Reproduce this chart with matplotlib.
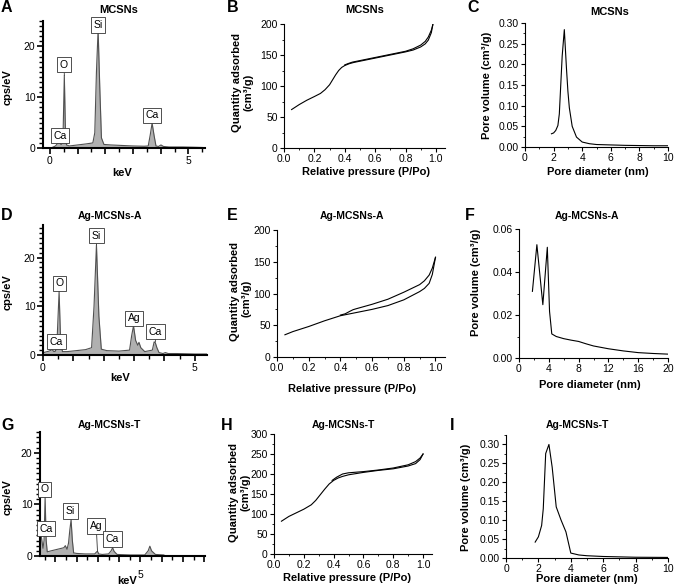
# EDS spectra, N2 isotherms and pore size distributions for MCSNs, Ag-MCSNs-A, Ag-MCSNs-T
# 3x3 panel figure

import matplotlib
matplotlib.use("Agg")
from matplotlib import pyplot as plt
from matplotlib.ticker import MultipleLocator, FixedLocator, FixedFormatter, FormatStrFormatter

plt.rcParams['font.family'] = ['Liberation Sans', 'DejaVu Sans']

W, H = 675, 587

# ---- EDS spectra (keV, cps/eV) ----
eds_a_kev = [0.08, 0.2, 0.28, 0.34, 0.40, 0.44, 0.48, 0.52, 0.56, 0.6, 0.7, 1.0, 1.3, 1.55, 1.62, 1.68,
             1.74, 1.80, 1.86, 1.95, 2.2, 2.6, 3.0, 3.4, 3.55, 3.62, 3.69, 3.76, 3.83, 3.92, 4.01, 4.1,
             4.3, 4.8, 5.2, 5.5]
eds_a_cps = [0.1, 0.4, 0.9, 1.2, 0.7, 0.8, 4.0, 14.3, 3.5, 0.6, 0.4, 0.6, 0.8, 1.0, 3.0, 15.0,
             23.3, 12.0, 2.0, 0.7, 0.6, 0.5, 0.4, 0.35, 0.4, 2.5, 4.9, 2.5, 0.4, 0.3, 0.6, 0.3,
             0.2, 0.2, 0.15, 0.1]
eds_a_labels = [('Ca', 0.34, 1.2, 0.36, 2.4), ('O', 0.52, 14.3, 0.51, 16.4),
                ('Si', 1.74, 23.0, 1.73, 24.2), ('Ca', 3.69, 4.9, 3.69, 6.4)]

eds_d_kev = [0.02, 0.2, 0.3, 0.36, 0.42, 0.47, 0.53, 0.58, 0.64, 0.8, 1.1, 1.4, 1.6, 1.68, 1.76, 1.84,
             1.92, 2.1, 2.5, 2.85, 2.92, 2.98, 3.05, 3.12, 3.16, 3.22, 3.35, 3.6, 3.66, 3.70, 3.75,
             3.82, 3.95, 4.03, 4.12, 4.4, 5.0, 5.4]
eds_d_cps = [0.5, 0.8, 1.1, 0.7, 0.8, 4.0, 13.0, 3.0, 0.7, 0.7, 0.9, 1.1, 1.5, 10.0, 22.6, 8.0,
             1.2, 0.9, 0.8, 1.0, 4.0, 6.0, 3.0, 2.0, 2.6, 1.5, 0.7, 1.0, 2.7, 2.5, 1.5,
             0.5, 0.3, 0.5, 0.3, 0.3, 0.2, 0.2]
eds_d_labels = [('Ca', 0.40, 0.9, 0.44, 2.7), ('O', 0.53, 13.0, 0.55, 14.7),
                ('Si', 1.76, 22.6, 1.76, 24.5), ('Ag', 2.98, 6.0, 3.0, 7.5),
                ('Ca', 3.70, 2.7, 3.70, 4.8)]

eds_g_kev = [0.28, 0.34, 0.42, 0.47, 0.52, 0.57, 0.62, 0.8, 1.0, 1.2, 1.4, 1.47, 1.55, 1.62, 1.68,
             1.74, 1.80, 1.86, 2.0, 2.4, 2.85, 2.94, 2.98, 3.04, 3.2, 3.5, 3.62, 3.69, 3.76, 3.9,
             4.5, 5.2, 5.36, 5.44, 5.52, 5.7, 6.1]
eds_g_cps = [3.5, 3.8, 1.5, 3.0, 11.3, 3.0, 0.8, 1.0, 1.2, 1.4, 1.6, 2.0, 1.3, 2.5, 5.0,
             7.0, 3.0, 0.6, 0.5, 0.4, 0.4, 0.8, 0.9, 0.4, 0.3, 0.4, 1.0, 1.6, 0.9, 0.3,
             0.2, 0.2, 1.0, 1.9, 1.0, 0.3, 0.2]
eds_g_labels = [('O', 0.52, 11.3, 0.48, 12.9), ('Ca', 0.36, 3.8, 0.55, 5.3),
                ('Si', 1.74, 7.0, 1.72, 8.7), ('Ag', 2.98, 0.9, 2.92, 5.8),
                ('Ca', 3.69, 1.6, 3.69, 3.3)]

# ---- N2 isotherms (P/Po, cm3/g) ----
iso_b_ads_p = [0.05, 0.1, 0.15, 0.2, 0.24, 0.27, 0.3, 0.32, 0.34, 0.36, 0.38, 0.4, 0.43, 0.46, 0.5,
               0.6, 0.7, 0.8, 0.85, 0.9, 0.93, 0.95, 0.97, 0.98]
iso_b_ads_q = [62, 70, 77, 83, 88, 94, 102, 110, 118, 125, 130, 133, 136, 138, 140,
               145, 150, 155, 158, 163, 168, 174, 186, 199]
iso_b_des_p = [0.98, 0.97, 0.95, 0.93, 0.9, 0.85, 0.8, 0.7, 0.6, 0.5, 0.45, 0.42, 0.4]
iso_b_des_q = [199, 190, 179, 172, 166, 160, 156, 151, 146, 141, 138.5, 136, 134]

iso_e_ads_p = [0.05, 0.1, 0.2, 0.3, 0.4, 0.5, 0.6, 0.7, 0.8, 0.9, 0.93, 0.96, 0.98, 1.0]
iso_e_ads_q = [35, 40, 48, 57, 65, 70, 75, 81, 90, 103, 108, 116, 130, 157]
iso_e_des_p = [1.0, 0.98, 0.96, 0.93, 0.9, 0.8, 0.7, 0.6, 0.5, 0.48, 0.46, 0.43, 0.4]
iso_e_des_q = [157, 140, 129, 120, 114, 102, 91, 83, 76, 74.5, 72, 68, 66]

iso_h_ads_p = [0.05, 0.1, 0.2, 0.25, 0.28, 0.31, 0.34, 0.37, 0.4, 0.43, 0.46, 0.5, 0.6, 0.7, 0.8,
               0.9, 0.95, 0.98, 1.0]
iso_h_ads_q = [82, 94, 112, 123, 134, 148, 162, 175, 184, 190, 194, 198, 204, 209, 213,
               220, 226, 236, 250]
iso_h_des_p = [1.0, 0.98, 0.95, 0.9, 0.8, 0.7, 0.6, 0.5, 0.46, 0.42, 0.39]
iso_h_des_q = [250, 240, 231, 223, 215, 210, 206, 203, 200, 192, 184]

# ---- pore size distributions (nm, cm3/g) ----
psd_c_d = [1.85, 2.0, 2.15, 2.3, 2.4, 2.5, 2.6, 2.75, 2.9, 3.0, 3.1, 3.3, 3.6, 4.0, 4.5, 5.0, 6.0, 7.0, 8.0, 9.0, 10.0]
psd_c_v = [0.032, 0.034, 0.040, 0.052, 0.080, 0.150, 0.220, 0.284, 0.190, 0.135, 0.095, 0.050, 0.024,
           0.012, 0.008, 0.006, 0.005, 0.004, 0.0035, 0.003, 0.003]

psd_f_d = [1.8, 2.4, 3.2, 3.8, 4.1, 4.4, 5.0, 6.0, 7.0, 8.0, 9.0, 10.0, 12.0, 14.0, 16.0, 18.0, 20.0]
psd_f_v = [0.031, 0.0527, 0.0248, 0.0515, 0.0217, 0.0112, 0.0100, 0.0090, 0.0083, 0.0077, 0.0066,
           0.0056, 0.0043, 0.0033, 0.0025, 0.0021, 0.0018]

psd_i_d = [1.8, 2.0, 2.2, 2.3, 2.45, 2.65, 2.85, 3.1, 3.4, 3.7, 4.0, 4.5, 5.0, 6.0, 8.0, 10.0]
psd_i_v = [0.042, 0.056, 0.086, 0.13, 0.276, 0.300, 0.240, 0.135, 0.100, 0.069, 0.013, 0.008,
           0.006, 0.004, 0.002, 0.0015]

fig = plt.figure(figsize=(W / 100, H / 100), dpi=100)


def add_ax(left, top, right, bottom):
    return fig.add_axes([left / W, 1 - bottom / H, (right - left) / W, (bottom - top) / H])


def ftext(x, y, s, **kw):
    fig.text(x / W, 1 - y / H, s, **kw)


def clean(ax, lw):
    for side in ['top', 'right']:
        ax.spines[side].set_visible(False)
    for side in ['left', 'bottom']:
        ax.spines[side].set_linewidth(lw)
    ax.tick_params(labelsize=7.5, direction='out', pad=1.5)


def eds_panel(box, kev, cps, labels, xlim, ylim, xlabel_pad=1.5):
    ax = add_ax(*box)
    clean(ax, 1.5)
    ax.fill_between(kev, cps, 0, color='#b0b0b0', lw=0)
    ax.plot(kev, cps, color='#505050', lw=0.8)
    for s, px, py, bx, by in labels:
        ax.annotate(s, xy=(px, py), xytext=(bx, by), ha='center', va='center', fontsize=7.5,
                    bbox=dict(boxstyle='square,pad=0.25', fc='white', ec='#333333', lw=0.6),
                    arrowprops=dict(arrowstyle='-', color='#333333', lw=0.6, shrinkA=0, shrinkB=0))
    ax.set_xlim(*xlim)
    ax.set_ylim(*ylim)
    ax.yaxis.set_major_locator(FixedLocator([0, 10, 20]))
    ax.yaxis.set_minor_locator(MultipleLocator(1))
    ticks = [t for t in range(0, 9) if xlim[0] <= t <= xlim[1]]
    ax.xaxis.set_major_locator(FixedLocator(ticks))
    ax.xaxis.set_major_formatter(FixedFormatter([str(t) if t in (0, 5) else '' for t in ticks]))
    ax.xaxis.set_minor_locator(MultipleLocator(0.5))
    ax.tick_params(which='major', length=4, width=1.2)
    ax.tick_params(which='minor', length=3, width=1.0)
    ax.tick_params(axis='x', pad=xlabel_pad)
    return ax


def iso_panel(box, ads_p, ads_q, des_p, des_q, ymax):
    ax = add_ax(*box)
    clean(ax, 0.8)
    ax.plot(ads_p, ads_q, color='black', lw=0.8)
    ax.plot(des_p, des_q, color='black', lw=0.8)
    ax.set_xlim(0, 1.06)
    ax.set_ylim(0, ymax)
    ax.xaxis.set_major_locator(FixedLocator([0, 0.2, 0.4, 0.6, 0.8, 1.0]))
    ax.xaxis.set_major_formatter(FormatStrFormatter('%.1f'))
    ax.yaxis.set_major_locator(MultipleLocator(50))
    ax.yaxis.set_minor_locator(MultipleLocator(25))
    ax.xaxis.set_minor_locator(MultipleLocator(0.1))
    ax.tick_params(which='major', length=3, width=0.8)
    ax.tick_params(which='minor', length=1.5, width=0.6)
    return ax


def psd_panel(box, d, v, xmax, xstep, ymax, ystep):
    ax = add_ax(*box)
    clean(ax, 0.8)
    ax.plot(d, v, color='black', lw=0.8)
    ax.set_xlim(0, xmax)
    ax.set_ylim(0, ymax)
    ax.xaxis.set_major_locator(MultipleLocator(xstep))
    ax.yaxis.set_major_locator(MultipleLocator(ystep))
    ax.yaxis.set_major_formatter(FormatStrFormatter('%.2f'))
    ax.xaxis.set_minor_locator(MultipleLocator(xstep / 2))
    ax.yaxis.set_minor_locator(MultipleLocator(ystep / 2))
    ax.tick_params(which='major', length=3, width=0.8)
    ax.tick_params(which='minor', length=1.5, width=0.6)
    return ax


# row 1: MCSNs
eds_panel((43, 21, 205, 148), eds_a_kev, eds_a_cps, eds_a_labels, (-0.25, 5.6), (0, 25))
iso_panel((284, 24, 445, 148), iso_b_ads_p, iso_b_ads_q, iso_b_des_p, iso_b_des_q, 200)
psd_panel((525, 23, 668, 147), psd_c_d, psd_c_v, 10, 2, 0.30, 0.05)

# row 2: Ag-MCSNs-A
eds_panel((43, 225, 207, 355), eds_d_kev, eds_d_cps, eds_d_labels, (0, 5.4), (0, 26.7))
iso_panel((277, 230, 445, 357), iso_e_ads_p, iso_e_ads_q, iso_e_des_p, iso_e_des_q, 200)
psd_panel((519, 229, 668, 358), psd_f_d, psd_f_v, 20, 4, 0.06, 0.02)

# row 3: Ag-MCSNs-T
eds_panel((40, 432, 205, 556), eds_g_kev, eds_g_cps, eds_g_labels, (0.28, 8.03), (0, 24), xlabel_pad=6)
iso_panel((274, 434, 432, 554), iso_h_ads_p, iso_h_ads_q, iso_h_des_p, iso_h_des_q, 300)
psd_panel((506, 435, 668, 558), psd_i_d, psd_i_v, 10, 2, 0.325, 0.05)

# panel letters
for s, x, y in [('A', 1, 8), ('B', 227, 8), ('C', 467, 8), ('D', 1, 215), ('E', 227, 215),
                ('F', 465, 215), ('G', 1, 425), ('H', 221, 425), ('I', 450, 425)]:
    ftext(x, y, s, fontsize=11.5, fontweight='bold', ha='left', va='center')

# titles
for s, x, y, fs in [('MCSNs', 119, 10, 8), ('MCSNs', 365, 10, 8), ('MCSNs', 610, 12, 8),
                    ('Ag-MCSNs-A', 110, 216, 7.5), ('Ag-MCSNs-A', 352, 216, 7.5), ('Ag-MCSNs-A', 587, 216, 7.5),
                    ('Ag-MCSNs-T', 109, 425, 7.5), ('Ag-MCSNs-T', 343, 425, 7.5), ('Ag-MCSNs-T', 577, 425, 7.5)]:
    ftext(x, y, s, fontsize=fs, fontweight='bold', ha='center', va='center')

# x labels
for s, x, y in [('keV', 122, 173), ('Relative pressure (P/Po)', 366, 172), ('Pore diameter (nm)', 598, 172),
                ('keV', 120, 378), ('Relative pressure (P/Po)', 352, 389), ('Pore diameter (nm)', 590, 385),
                ('keV', 127, 581), ('Relative pressure (P/Po)', 347, 578), ('Pore diameter (nm)', 587, 579)]:
    ftext(x, y, s, fontsize=8, fontweight='bold', ha='center', va='center')

# y labels
for s, x, y in [('cps/eV', 8, 87), ('cps/eV', 8, 292), ('cps/eV', 8, 497),
                ('Quantity adsorbed', 237, 82), ('(cm³/g)', 249, 92),
                ('Quantity adsorbed', 235, 292), ('(cm³/g)', 247, 298),
                ('Quantity adsorbed', 234, 493), ('(cm³/g)', 245.5, 492),
                ('Pore volume (cm³/g)', 487, 85), ('Pore volume (cm³/g)', 476, 282),
                ('Pore volume (cm³/g)', 466, 497)]:
    ftext(x, y, s, fontsize=8, fontweight='bold', ha='center', va='center', rotation=90)

fig.savefig('out.png', dpi=100)
